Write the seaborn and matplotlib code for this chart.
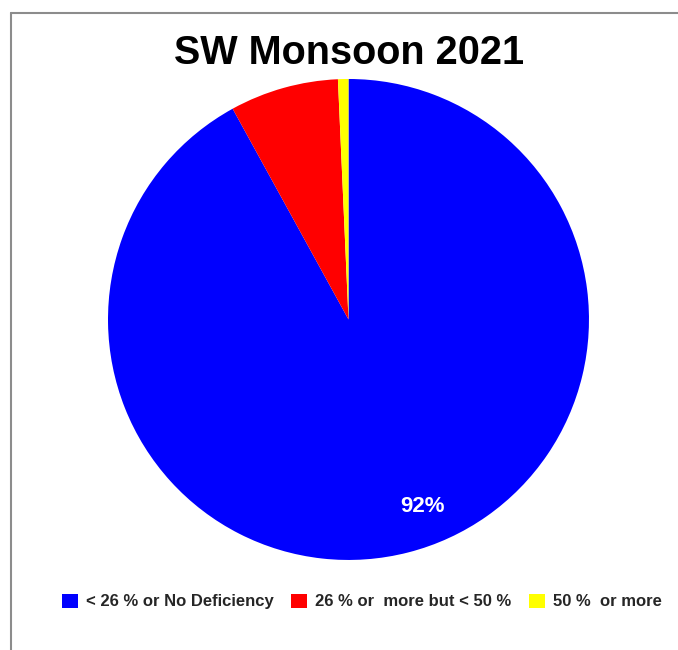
import matplotlib
matplotlib.use("Agg")
import matplotlib.pyplot as plt
import seaborn as sns
from matplotlib.lines import Line2D
from matplotlib.patches import Patch

categories = ["< 26 % or No Deficiency", "26 % or  more but < 50 %", "50 %  or more"]
values = [92.0, 7.3, 0.7]
colors = ["#0000FF", "#FF0000", "#FFFF00"]
title = "SW Monsoon 2021"

sns.set_theme(style="white")
plt.rcParams["font.family"] = ["Liberation Sans", "DejaVu Sans"]

fig = plt.figure(figsize=(6.78, 6.5), dpi=100)
ax = fig.add_axes([0.1593, 0.1385, 0.7094, 0.74])

def fmt(p):
    return f"{p:.0f}%" if p > 50 else ""

wedges, texts, autotexts = ax.pie(values, colors=colors, startangle=90, counterclock=False,
                                  autopct=fmt, pctdistance=0.84,
                                  wedgeprops=dict(linewidth=0),
                                  textprops=dict(color="white", fontweight="bold", fontsize=16))
autotexts[0].set_position((0.308, -0.779))
ax.set_xlim(-1, 1)
ax.set_ylim(-1, 1)
ax.set_aspect("equal")

fig.text(349 / 678, 1 - 52.5 / 650, title, ha="center", va="center",
         fontsize=28.5, fontweight="bold", color="black")

handles = [Patch(facecolor=c, edgecolor="none") for c in colors]
fig.legend(handles, categories, loc="center", ncol=3, frameon=False,
           bbox_to_anchor=(362 / 678, 1 - 601.5 / 650),
           prop=dict(size=12, weight="bold"),
           handlelength=0.95, handleheight=0.95, handletextpad=0.5, columnspacing=1.05)

fig.add_artist(Line2D([11 / 678, 11 / 678], [0, 1 - 13 / 650], transform=fig.transFigure,
                      color="#8c8c8c", linewidth=1.5))
fig.add_artist(Line2D([11 / 678, 1], [1 - 13 / 650, 1 - 13 / 650], transform=fig.transFigure,
                      color="#8c8c8c", linewidth=1.5))

fig.savefig("out.png", dpi=100, facecolor="white")
